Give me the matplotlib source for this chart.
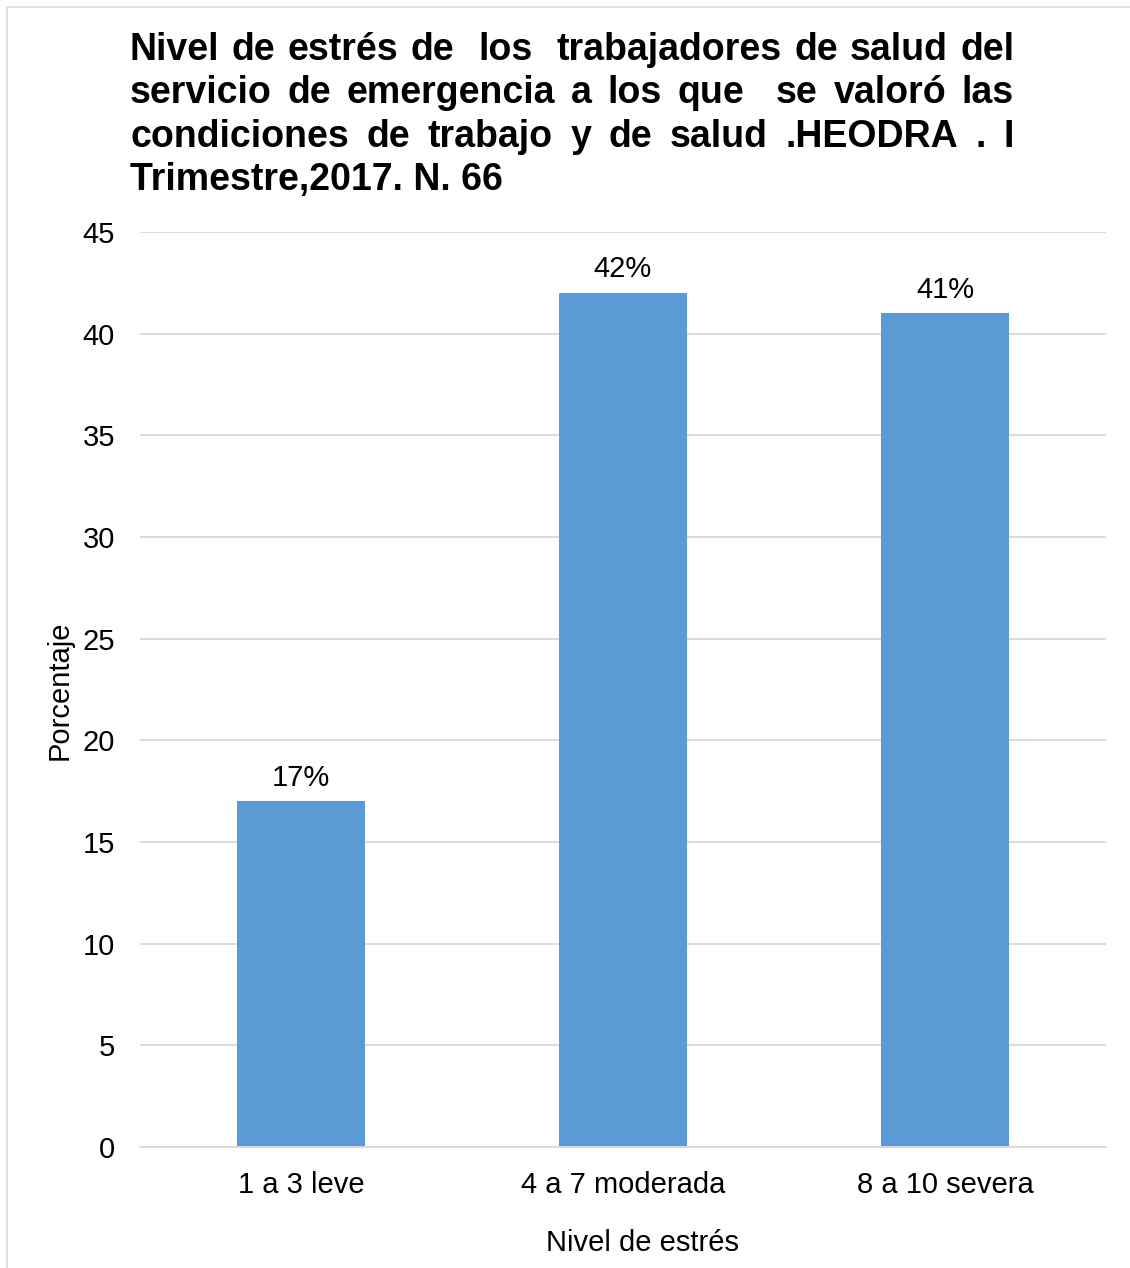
import matplotlib
matplotlib.use("Agg")
import matplotlib.pyplot as plt
from matplotlib.patches import Rectangle

plt.rcParams["font.family"] = ["Liberation Sans", "DejaVu Sans"]

# data
categories = ["1 a 3 leve", "4 a 7 moderada", "8 a 10 severa"]
values = [17, 42, 41]
value_labels = ["17%", "42%", "41%"]
yticks = [0, 5, 10, 15, 20, 25, 30, 35, 40, 45]

title_lines = [
    "Nivel de estrés de  los  trabajadores de salud del",
    "servicio de emergencia a los que  se valoró las",
    "condiciones de trabajo y de salud .HEODRA . I",
    "Trimestre,2017. N. 66",
]

W, H = 1130, 1268
fig = plt.figure(figsize=(W / 100, H / 100), dpi=100)

# light frame around the chart area
fig.patches.append(Rectangle((7 / W, -0.05), 1.2, 1 - 7 / H + 0.05,
                             transform=fig.transFigure, fill=False,
                             edgecolor="#d9d9d9", linewidth=1.2))

ax = fig.add_axes([140 / W, (H - 1147) / H, (1106 - 140) / W, (1147 - 232) / H])
x = range(len(categories))
ax.bar(x, values, width=0.4, color="#5b9bd5", zorder=2)
for xi, v, lab in zip(x, values, value_labels):
    ax.annotate(lab, (xi, v), xytext=(0, 7), textcoords="offset points",
                ha="center", va="bottom", fontsize=21)

ax.set_xlim(-0.5, 2.5)
ax.set_ylim(0, 45)
ax.set_yticks(yticks)
ax.set_xticks(list(x))
ax.set_xticklabels(categories)
ax.tick_params(axis="both", length=0, labelsize=21)
ax.tick_params(axis="y", pad=18)
ax.tick_params(axis="x", pad=17)
ax.grid(axis="y", color="#d9d9d9", linewidth=1.3, zorder=0)
for s in ["top", "right", "left"]:
    ax.spines[s].set_visible(False)
ax.spines["bottom"].set_color("#d9d9d9")
ax.spines["bottom"].set_linewidth(1.3)

fig.text(60 / W, 1 - 690 / H, "Porcentaje", rotation=90, ha="center",
         va="center", fontsize=21)
fig.text(643 / W, 1 - 1243 / H, "Nivel de estrés", ha="center",
         va="center", fontsize=21)

# justified bold title
left_px, right_px = 130, 1014
line_y = [50, 93, 137, 180]
fig.canvas.draw()
renderer = fig.canvas.get_renderer()
for i, (line, yy) in enumerate(zip(title_lines, line_y)):
    if i == len(title_lines) - 1:
        fig.text(left_px / W, 1 - yy / H, line, ha="left", va="center",
                 fontsize=27, fontweight="bold")
        continue
    words = line.split(" ")
    texts = [fig.text(0, 1 - yy / H, w, ha="left", va="center",
                      fontsize=27, fontweight="bold") for w in words]
    widths = [t.get_window_extent(renderer).width if w else 0
              for t, w in zip(texts, words)]
    gap = (right_px - left_px - sum(widths)) / (len(words) - 1)
    xpos = left_px
    for t, wd in zip(texts, widths):
        t.set_x(xpos / W)
        xpos += wd + gap

fig.savefig("out.png", dpi=100)
